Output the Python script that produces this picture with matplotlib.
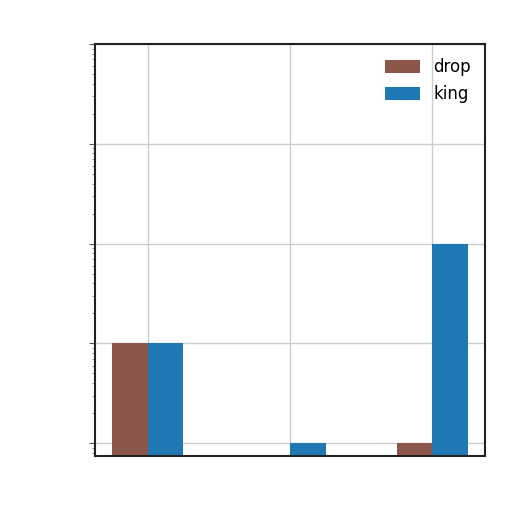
import numpy as np
import matplotlib
matplotlib.use("Agg")
import matplotlib.pyplot as plt

# values (log scale)
categories = ["a", "b", "c"]
drop = [10, 0, 1]
king = [10, 1, 100]

fig = plt.figure(figsize=(5.12, 5.12), dpi=100)
ax = fig.add_axes([0.186, 0.109, 0.761, 0.805])

x = np.arange(len(categories))
w = 0.25
ax.bar(x - w / 2, drop, w, color="#8c564b", label="drop")
ax.bar(x + w / 2, king, w, color="#1f77b4", label="king")

ax.set_yscale("log")
ax.set_ylim(0.74, 10000)
ax.set_xlim(-0.37, 2.37)
ax.set_xticks(x)
ax.set_xticklabels([])
ax.set_yticklabels([], minor=True)
ax.set_yticklabels([])
ax.tick_params(axis="x", length=0)
ax.tick_params(axis="y", which="major", length=4, color="#555555")
ax.tick_params(axis="y", which="minor", length=2, color="#777777")
ax.grid(True, which="major", color="#cccccc", linewidth=1)
ax.set_axisbelow(True)
for s in ax.spines.values():
    s.set_color("#222222")
    s.set_linewidth(1.5)

ax.legend(loc="upper right", frameon=False, fontsize=12, handlelength=2.1,
          handleheight=0.8, labelspacing=0.55, borderaxespad=0.45)

fig.savefig("out.png", dpi=100)
